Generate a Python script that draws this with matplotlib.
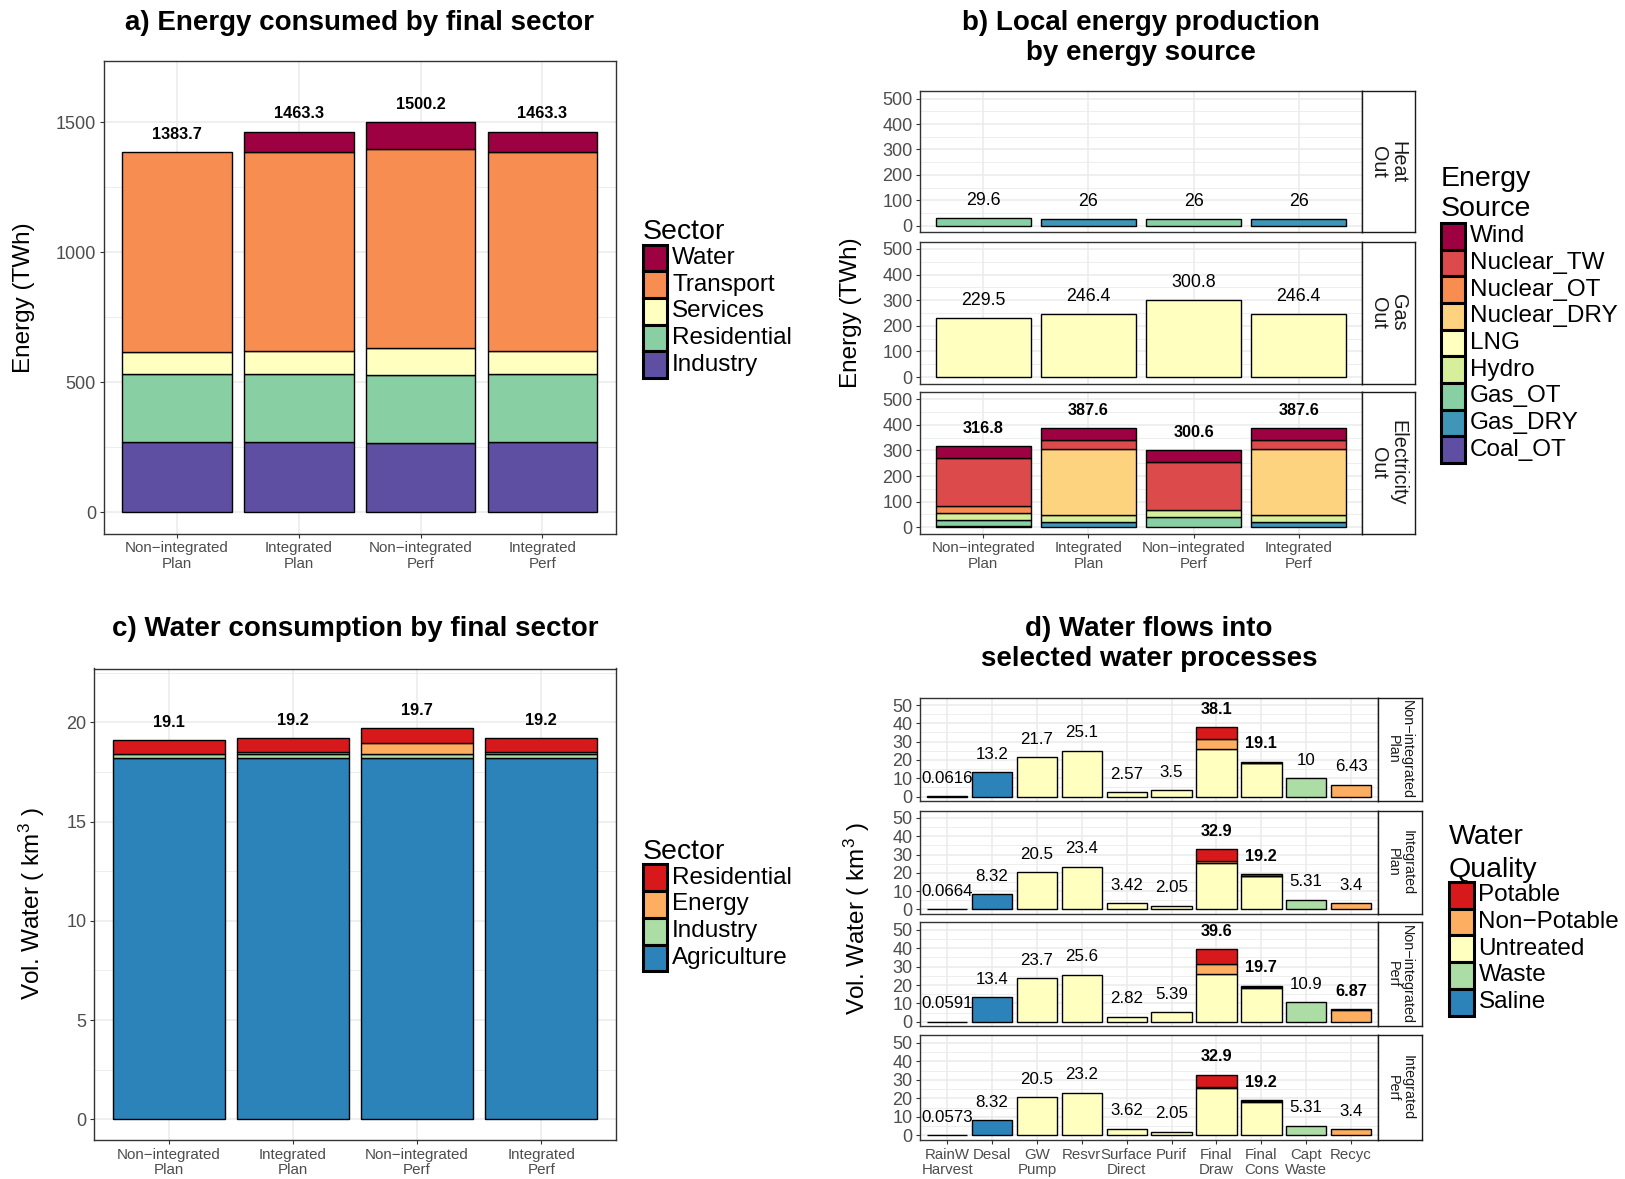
import numpy as np
import matplotlib
matplotlib.use("Agg")
import matplotlib.pyplot as plt
from matplotlib.patches import Rectangle

plt.rcParams['font.family'] = ['Liberation Sans', 'DejaVu Sans']
plt.rcParams['mathtext.fontset'] = 'custom'
plt.rcParams['mathtext.rm'] = 'Liberation Sans'
plt.rcParams['mathtext.it'] = 'Liberation Sans:italic'

# ---------------- DATA ----------------
scenarios = ["Non\u2212integrated\nPlan", "Integrated\nPlan", "Non\u2212integrated\nPerf", "Integrated\nPerf"]

# a) Energy consumed by final sector (TWh), stacked bottom -> top
a_sectors = ["Industry", "Residential", "Services", "Transport", "Water"]
a_industry = [270, 270, 265, 270]
a_residential = [263, 263, 263, 263]
a_services = [83, 88, 105, 88]
a_transport = [767.7, 764, 762, 764]
a_water = [0, 78.3, 105.2, 78.3]
a_colors = ["#5E4FA2", "#88CFA4", "#FFFFBF", "#F88D52", "#9E0142"]

# b) Local energy production by energy source (TWh)
b_facets = ["Heat\nOut", "Gas\nOut", "Electricity\nOut"]
b_sources = ["Coal_OT", "Gas_DRY", "Gas_OT", "Hydro", "LNG", "Nuclear_DRY", "Nuclear_OT", "Nuclear_TW", "Wind"]
b_colors = ["#5E4FA2", "#3F96B7", "#88CFA4", "#D7EF9B", "#FFFFBF", "#FED380", "#F88D52", "#DC4A4C", "#9E0142"]
b_heat_gas_ot = [29.6, 0, 26, 0]
b_heat_gas_dry = [0, 26, 0, 26]
b_gas_lng = [229.5, 246.4, 300.8, 246.4]
b_elec_gas_dry = [3, 22, 0, 22]
b_elec_gas_ot = [25.6, 0, 40, 0]
b_elec_hydro = [26, 26, 29, 26]
b_elec_nuclear_dry = [0, 257, 0, 257]
b_elec_nuclear_ot = [28.5, 0, 0, 0]
b_elec_nuclear_tw = [188, 36, 186, 36]
b_elec_wind = [45.7, 46.6, 45.6, 46.6]

# c) Water consumption by final sector (km3), bottom -> top
c_sectors = ["Agriculture", "Industry", "Energy", "Residential"]
c_agriculture = [18.18, 18.2, 18.2, 18.2]
c_industry = [0.2, 0.2, 0.2, 0.2]
c_energy = [0, 0.08, 0.55, 0.08]
c_residential = [0.72, 0.72, 0.75, 0.72]
c_colors = ["#2B83BA", "#ABDDA4", "#FDAE61", "#D7191C"]

# d) Water flows into selected water processes (km3)
processes = ["RainW\nHarvest", "Desal", "GW\nPump", "Resvr", "Surface\nDirect",
             "Purif", "Final\nDraw", "Final\nCons", "Capt\nWaste", "Recyc"]
d_qualities = ["Saline", "Waste", "Untreated", "Non\u2212Potable", "Potable"]
d_colors = ["#2B83BA", "#ABDDA4", "#FFFFBF", "#FDAE61", "#D7191C"]
d_saline = [[0, 13.2, 0, 0, 0, 0, 0, 0, 0, 0],
            [0, 8.32, 0, 0, 0, 0, 0, 0, 0, 0],
            [0, 13.4, 0, 0, 0, 0, 0, 0, 0, 0],
            [0, 8.32, 0, 0, 0, 0, 0, 0, 0, 0]]
d_waste = [[0, 0, 0, 0, 0, 0, 0, 0, 10, 0],
           [0, 0, 0, 0, 0, 0, 0, 0, 5.31, 0],
           [0, 0, 0, 0, 0, 0, 0, 0, 10.9, 0],
           [0, 0, 0, 0, 0, 0, 0, 0, 5.31, 0]]
d_untreated = [[0.0616, 0, 21.7, 25.1, 2.57, 3.5, 26.0, 18.2, 0, 0],
               [0.0664, 0, 20.5, 23.4, 3.42, 2.05, 25.6, 18.2, 0, 0],
               [0.0591, 0, 23.7, 25.6, 2.82, 5.39, 25.9, 18.2, 0, 0],
               [0.0573, 0, 20.5, 23.2, 3.62, 2.05, 25.6, 18.2, 0, 0]]
d_nonpotable = [[0, 0, 0, 0, 0, 0, 5.5, 0.2, 0, 6.43],
                [0, 0, 0, 0, 0, 0, 0.8, 0.28, 0, 3.4],
                [0, 0, 0, 0, 0, 0, 5.6, 0.75, 0, 6.37],
                [0, 0, 0, 0, 0, 0, 0.8, 0.28, 0, 3.4]]
d_potable = [[0, 0, 0, 0, 0, 0, 6.6, 0.7, 0, 0],
             [0, 0, 0, 0, 0, 0, 6.5, 0.72, 0, 0],
             [0, 0, 0, 0, 0, 0, 8.1, 0.75, 0, 0.5],
             [0, 0, 0, 0, 0, 0, 6.5, 0.72, 0, 0]]

# ---------------- FIGURE ----------------
W, H = 1625, 1179
fig = plt.figure(figsize=(W / 100, H / 100), dpi=100)
fig.patch.set_facecolor("white")


def add_ax(l, t, r, b):
    return fig.add_axes([l / W, 1 - b / H, (r - l) / W, (b - t) / H])


def style(ax, ylim, major, minor, xlim, xt, xtl, xfs=10.9, yfs=13):
    ax.set_xlim(*xlim)
    ax.set_ylim(*ylim)
    ax.set_yticks(major)
    ax.set_yticks(minor, minor=True)
    ax.set_xticks(xt)
    ax.grid(True, which="major", color="#EBEBEB", lw=1.1)
    ax.grid(True, which="minor", axis="y", color="#EBEBEB", lw=0.6)
    ax.set_axisbelow(True)
    for s in ax.spines.values():
        s.set_color("#333333")
        s.set_linewidth(1.0)
    ax.tick_params(which="major", direction="out", length=3, width=0.8,
                   color="#333333", labelcolor="#4D4D4D", pad=2.5)
    ax.tick_params(which="minor", length=0)
    ax.tick_params(axis="y", labelsize=yfs)
    if xtl is None:
        ax.set_xticklabels([])
        ax.tick_params(axis="x", length=0)
    else:
        ax.set_xticklabels(xtl, fontsize=xfs, linespacing=1.12)


def stacked(ax, x, layers, colors):
    bottom = np.zeros(len(x))
    count = np.zeros(len(x), int)
    for vals, col in zip(layers, colors):
        vals = np.asarray(vals, float)
        m = vals > 0
        if m.any():
            ax.bar(x[m], vals[m], bottom=bottom[m], width=0.9, color=col,
                   edgecolor="black", linewidth=1.0, zorder=2)
        bottom += vals
        count += m
    return bottom, count


def bar_labels(ax, x, totals, counts, fmt, fs=12.5, bfs=11.7, force_bold=False):
    for xi, t, n in zip(x, totals, counts):
        bold = n > 1 or force_bold
        ax.annotate(fmt(t), (xi, t), xytext=(0, 12.8), textcoords="offset points",
                    ha="center", va="center", fontsize=bfs if bold else fs, color="black",
                    fontweight="bold" if bold else "normal", zorder=3)


def strip(l, t, r, b, text, fs):
    sax = add_ax(l, t, r, b)
    sax.set_xticks([])
    sax.set_yticks([])
    sax.set_facecolor("white")
    for s in sax.spines.values():
        s.set_color("#1A1A1A")
        s.set_linewidth(1.0)
    sax.text(0.5, 0.5, text, rotation=-90, ha="center", va="center", fontsize=fs,
             color="#1A1A1A", transform=sax.transAxes, multialignment="center",
             linespacing=1.05, clip_on=True)


def legend(xk, ytop, title_lines, title_base, labels, colors, kw=24.5, kh=26.7):
    for i, (lab, col) in enumerate(zip(labels, colors)):
        y0 = ytop + i * kh
        fig.add_artist(Rectangle((xk / W, 1 - (y0 + kh) / H), kw / W, kh / H,
                                 transform=fig.transFigure, facecolor=col,
                                 edgecolor="black", lw=2.2))
        fig.text((xk + kw + 5) / W, 1 - (y0 + kh / 2) / H, lab, fontsize=17.5,
                 va="center", ha="left")
    for t, yb in zip(title_lines, title_base):
        fig.text(xk / W, 1 - yb / H, t, fontsize=20.5, va="baseline", ha="left")


def title(cx, lines, bases):
    for t, yb in zip(lines, bases):
        fig.text(cx / W, 1 - yb / H, t, fontsize=20, fontweight="bold",
                 ha="center", va="baseline")


fmt1 = lambda v: f"{round(v, 1):g}"
fmt3 = lambda v: f"{v:.3g}"

# ---------------- PANEL A ----------------
x4 = np.arange(1, 5)
axa = add_ax(103.6, 61.1, 615.6, 533.7)
tot, cnt = stacked(axa, x4, [a_industry, a_residential, a_services, a_transport, a_water], a_colors)
bar_labels(axa, x4, tot, cnt, fmt1, force_bold=True)
style(axa, (-83, 1735), [0, 500, 1000, 1500], [250, 750, 1250], (0.4, 4.6), x4, scenarios)
title(359.6, ["a) Energy consumed by final sector"], [30])
fig.text(24 / W, 1 - 297.4 / H, "Energy (TWh)", rotation=90, fontsize=17.5, ha="center", va="center")
legend(642.6, 244.6, ["Sector"], [239.2], a_sectors[::-1], a_colors[::-1])

# ---------------- PANEL B ----------------
b_data = [
    [np.zeros(4), b_heat_gas_dry, b_heat_gas_ot, np.zeros(4), np.zeros(4), np.zeros(4), np.zeros(4), np.zeros(4), np.zeros(4)],
    [np.zeros(4), np.zeros(4), np.zeros(4), np.zeros(4), b_gas_lng, np.zeros(4), np.zeros(4), np.zeros(4), np.zeros(4)],
    [np.zeros(4), b_elec_gas_dry, b_elec_gas_ot, b_elec_hydro, np.zeros(4), b_elec_nuclear_dry,
     b_elec_nuclear_ot, b_elec_nuclear_tw, b_elec_wind],
]
b_tops = [91.2, 241.5, 391.8]
b_bots = [232.2, 383.5, 533.7]
for i in range(3):
    ax = add_ax(920.3, b_tops[i], 1361.8, b_bots[i])
    tot, cnt = stacked(ax, x4, b_data[i], b_colors)
    bar_labels(ax, x4, tot, cnt, fmt1, fs=12.8)
    style(ax, (-25.2, 529), [0, 100, 200, 300, 400, 500], [50, 150, 250, 350, 450],
          (0.4, 4.6), x4, scenarios if i == 2 else None)
    strip(1361.8, b_tops[i], 1414.7, b_bots[i], b_facets[i], 14.3)
title(1141, ["b) Local energy production", "by energy source"], [30, 59.7])
fig.text(851 / W, 1 - 312.5 / H, "Energy (TWh)", rotation=90, fontsize=17.5, ha="center", va="center")
legend(1440.6, 222.8, ["Energy", "Source"], [186.4, 216.4], b_sources[::-1], b_colors[::-1])

# ---------------- PANEL C ----------------
axc = add_ax(94.3, 668.5, 615.6, 1140)
tot, cnt = stacked(axc, x4, [c_agriculture, c_industry, c_energy, c_residential], c_colors)
bar_labels(axc, x4, tot, cnt, fmt3, force_bold=True)
style(axc, (-1.04, 22.71), [0, 5, 10, 15, 20], [2.5, 7.5, 12.5, 17.5, 22.5], (0.4, 4.6), x4, scenarios)
title(355, ["c) Water consumption by final sector"], [636])
fig.text(32 / W, 1 - 904 / H, "Vol. Water ( km$^3$ )", rotation=90, fontsize=17.5, ha="center", va="center")
legend(642.6, 864.4, ["Sector"], [859], c_sectors[::-1], c_colors[::-1])

# ---------------- PANEL D ----------------
x10 = np.arange(1, 11)
d_tops = [697.5, 810.5, 922.4, 1035.4]
d_bots = [801.1, 914, 1026.4, 1140]
for i in range(4):
    ax = add_ax(920.3, d_tops[i], 1378, d_bots[i])
    layers = [d_saline[i], d_waste[i], d_untreated[i], d_nonpotable[i], d_potable[i]]
    tot, cnt = stacked(ax, x10, layers, d_colors)
    bar_labels(ax, x10, tot, cnt, fmt3, fs=12.2, bfs=11.7)
    style(ax, (-2.5, 54.1), [0, 10, 20, 30, 40, 50], [5, 15, 25, 35, 45],
          (0.4, 10.6), x10, processes if i == 3 else None, xfs=10.8)
    strip(1378, d_tops[i], 1422, d_bots[i], scenarios[i], 10.4)
title(1149, ["d) Water flows into", "selected water processes"], [636, 666])
fig.text(857 / W, 1 - 918.7 / H, "Vol. Water ( km$^3$ )", rotation=90, fontsize=17.5, ha="center", va="center")
legend(1449, 882, ["Water", "Quality"], [844.5, 876.6], d_qualities[::-1], d_colors[::-1])

fig.savefig("out.png", dpi=100)
